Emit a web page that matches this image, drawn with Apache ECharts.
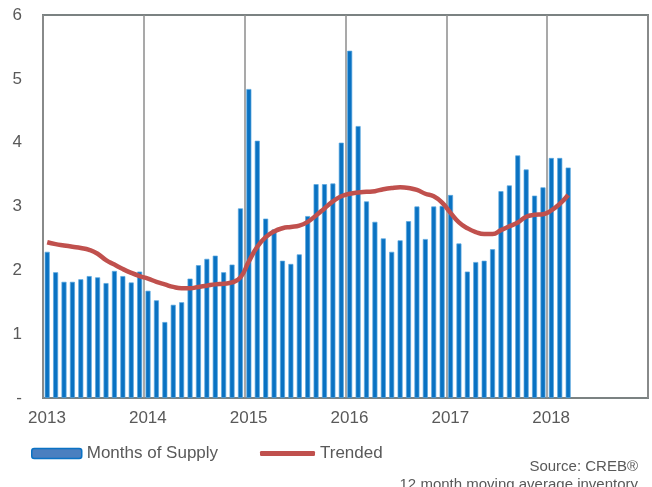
<!DOCTYPE html>
<html lang="en">
<head>
    <meta charset="UTF-8">
    <title>Months of Supply</title>
    <style>
        html,body{margin:0;padding:0;background:#fff;}
        #main{width:652px;height:487px;}
    </style>
    <script type="text/javascript" src="https://cdn.jsdelivr.net/npm/echarts@6/dist/echarts.min.js"></script>
</head>
<body>
<div id="main"></div>
</body>
<script>
    // monthly values, Jan 2013 .. Mar 2018
    let yearLabels=['2013','2014','2015','2016','2017','2018'];
    let monthsOfSupply=[
        2.29,1.97,1.82,1.82,1.86,1.91,1.89,1.80,1.99,1.91,1.81,1.98,
        1.68,1.53,1.19,1.46,1.50,1.87,2.08,2.18,2.23,1.97,2.09,2.97,
        4.84,4.03,2.81,2.64,2.15,2.10,2.25,2.85,3.35,3.35,3.36,4.00,
        5.44,4.26,3.08,2.76,2.50,2.29,2.47,2.77,3.00,2.49,3.00,3.01,
        3.18,2.42,1.98,2.13,2.15,2.33,3.24,3.33,3.80,3.58,3.17,3.30,
        3.76,3.76,3.61
    ];
    let trended=[
        2.44,2.41,2.39,2.37,2.35,2.32,2.26,2.16,2.09,2.02,1.96,1.91,
        1.87,1.82,1.78,1.74,1.72,1.72,1.74,1.76,1.78,1.79,1.81,1.89,
        2.14,2.37,2.52,2.61,2.66,2.68,2.70,2.76,2.86,2.97,3.08,3.16,
        3.20,3.22,3.23,3.24,3.27,3.29,3.30,3.29,3.26,3.20,3.16,3.06,
        2.90,2.75,2.66,2.60,2.57,2.57,2.63,2.69,2.75,2.84,2.87,2.88,
        2.94,3.04,3.18
    ];

    let font='"Liberation Sans", Arial, sans-serif';
    let grey='#595959';

    let chart=echarts.init(document.getElementById('main'));

    let option={
        animation:false,
        textStyle:{fontFamily:font},
        grid:{
            left:43,
            right:4,
            top:15,
            bottom:89,
            show:true,
            borderColor:'#7b8282',
            borderWidth:2
        },
        legend:[
            {
                data:['Months of Supply'],
                left:31,
                top:445,
                padding:0,
                itemWidth:50,
                itemHeight:10,
                itemStyle:{color:'#4a7fc0',borderColor:'#0b72c4',borderWidth:1.5},
                textStyle:{color:grey,fontSize:17,fontFamily:font}
            },
            {
                data:['Trended'],
                left:260,
                top:445,
                padding:0,
                itemWidth:55,
                itemHeight:5,
                icon:'roundRect',
                itemStyle:{color:'#c0504d'},
                textStyle:{color:grey,fontSize:17,fontFamily:font}
            }
        ],
        xAxis:{
            type:'value',
            min:0,
            max:72,
            interval:12,
            axisLine:{show:false},
            axisTick:{show:false},
            splitLine:{show:true,lineStyle:{color:'#8c8c8c',width:1.5}},
            axisLabel:{
                color:grey,
                fontSize:17,
                fontFamily:font,
                margin:12,
                padding:[0,0,0,8],
                showMaxLabel:false,
                formatter:function(v){return yearLabels[v/12]||'';}
            }
        },
        yAxis:{
            type:'value',
            min:0,
            max:6,
            interval:1,
            axisLine:{show:false},
            axisTick:{show:false},
            splitLine:{show:false},
            axisLabel:{
                color:grey,
                fontSize:17,
                fontFamily:font,
                margin:21,
                formatter:function(v){return v===0?'-':v;}
            }
        },
        graphic:[
            {
                type:'text',
                right:14,
                top:459,
                style:{text:'Source: CREB®',fill:grey,font:'15px '+font,textAlign:'right'}
            },
            {
                type:'text',
                right:14,
                top:477,
                style:{text:'12 month moving average inventory',fill:grey,font:'15px '+font,textAlign:'right'}
            }
        ],
        series:[
            {
                name:'Months of Supply',
                type:'bar',
                barWidth:5,
                itemStyle:{color:'#0a72c2',borderColor:'#5aa7e0',borderWidth:0.7},
                data:monthsOfSupply.map((v,i)=>[i+0.5,v])
            },
            {
                name:'Trended',
                type:'line',
                smooth:true,
                symbol:'none',
                z:5,
                lineStyle:{color:'#c0504d',width:4.5},
                itemStyle:{color:'#c0504d'},
                data:trended.map((v,i)=>[i+0.5,v])
            }
        ]
    };
    chart.setOption(option);
</script>
</html>
